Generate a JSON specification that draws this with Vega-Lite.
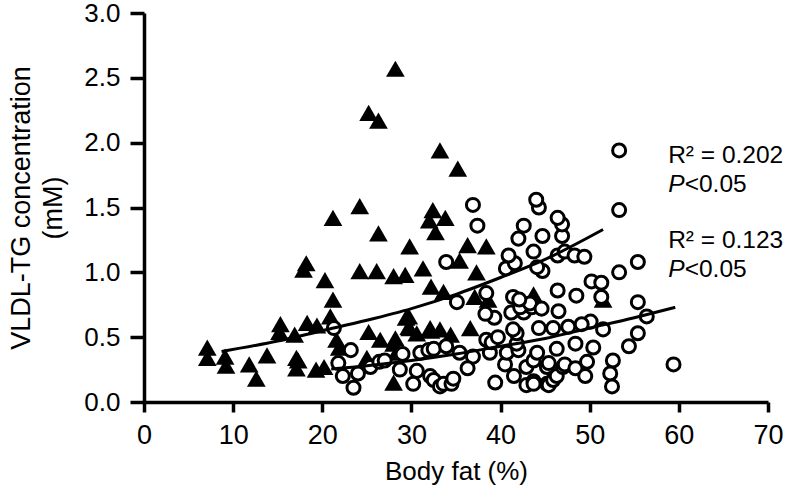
{
  "$schema": "https://vega.github.io/schema/vega-lite/v6.json",
  "width": 624,
  "height": 389,
  "autosize": {"type": "none"},
  "padding": {"left": 144, "top": 13, "right": 20, "bottom": 90},
  "background": "white",
  "config": {
    "view": {"stroke": null},
    "font": "Liberation Sans",
    "axis": {
      "grid": false,
      "labelFlush": false,
      "domainColor": "black",
      "domainWidth": 3.5,
      "tickColor": "black",
      "tickWidth": 3.5,
      "labelFont": "Liberation Sans",
      "labelColor": "black",
      "titleFont": "Liberation Sans",
      "titleFontWeight": "normal",
      "titleColor": "black"
    }
  },
  "datasets": {
    "tri": [
      {"x": 28.2, "y": 2.57}, {"x": 25.2, "y": 2.23}, {"x": 26.3, "y": 2.17}, {"x": 33.2, "y": 1.94}, {"x": 35.2, "y": 1.8},
      {"x": 21.2, "y": 1.42}, {"x": 24.2, "y": 1.51}, {"x": 26.3, "y": 1.3}, {"x": 32.4, "y": 1.48}, {"x": 33.8, "y": 1.42},
      {"x": 32.0, "y": 1.4}, {"x": 32.7, "y": 1.31}, {"x": 29.8, "y": 1.2}, {"x": 36.3, "y": 1.21}, {"x": 38.4, "y": 1.2},
      {"x": 18.2, "y": 1.07}, {"x": 17.9, "y": 1.02}, {"x": 20.3, "y": 0.94}, {"x": 24.2, "y": 1.01}, {"x": 26.1, "y": 1.01},
      {"x": 28.0, "y": 0.97}, {"x": 29.3, "y": 0.98}, {"x": 31.3, "y": 1.03}, {"x": 35.4, "y": 1.09}, {"x": 37.3, "y": 1.0},
      {"x": 32.2, "y": 0.89}, {"x": 33.6, "y": 0.85}, {"x": 37.1, "y": 0.81}, {"x": 38.6, "y": 0.79}, {"x": 43.7, "y": 0.83},
      {"x": 51.5, "y": 0.79}, {"x": 21.2, "y": 0.79}, {"x": 20.9, "y": 0.66}, {"x": 15.3, "y": 0.6}, {"x": 15.2, "y": 0.54},
      {"x": 18.3, "y": 0.61}, {"x": 19.4, "y": 0.59}, {"x": 16.9, "y": 0.52}, {"x": 17.3, "y": 0.32}, {"x": 17.1, "y": 0.26},
      {"x": 7.1, "y": 0.42}, {"x": 7.1, "y": 0.34}, {"x": 9.1, "y": 0.35}, {"x": 9.2, "y": 0.28}, {"x": 11.8, "y": 0.29},
      {"x": 12.6, "y": 0.18}, {"x": 13.8, "y": 0.36}, {"x": 25.2, "y": 0.54}, {"x": 29.4, "y": 0.65}, {"x": 29.8, "y": 0.57},
      {"x": 28.0, "y": 0.15}, {"x": 19.3, "y": 0.25}, {"x": 20.2, "y": 0.27}, {"x": 21.6, "y": 0.48}, {"x": 21.9, "y": 0.42},
      {"x": 25.0, "y": 0.34}, {"x": 28.0, "y": 0.45}, {"x": 28.3, "y": 0.38}, {"x": 32.2, "y": 0.55}, {"x": 33.2, "y": 0.56},
      {"x": 34.4, "y": 0.52}, {"x": 30.6, "y": 0.53}, {"x": 29.7, "y": 0.66}, {"x": 29.7, "y": 0.58}, {"x": 32.1, "y": 0.57},
      {"x": 36.6, "y": 0.57}, {"x": 28.2, "y": 0.49}, {"x": 26.5, "y": 0.48}, {"x": 17.1, "y": 0.34}
    ],
    "circ": [
      {"x": 21.3, "y": 0.57}, {"x": 23.2, "y": 0.4}, {"x": 21.8, "y": 0.3}, {"x": 22.3, "y": 0.2}, {"x": 23.5, "y": 0.11},
      {"x": 24.0, "y": 0.22}, {"x": 25.4, "y": 0.27}, {"x": 26.4, "y": 0.31}, {"x": 27.0, "y": 0.32}, {"x": 28.7, "y": 0.25},
      {"x": 29.0, "y": 0.37}, {"x": 30.6, "y": 0.24}, {"x": 31.0, "y": 0.38}, {"x": 31.9, "y": 0.4}, {"x": 32.5, "y": 0.41},
      {"x": 32.1, "y": 0.2}, {"x": 32.5, "y": 0.17}, {"x": 33.2, "y": 0.12}, {"x": 33.6, "y": 0.14}, {"x": 34.5, "y": 0.14},
      {"x": 34.7, "y": 0.18}, {"x": 30.2, "y": 0.14}, {"x": 33.9, "y": 0.43}, {"x": 35.4, "y": 0.38}, {"x": 36.9, "y": 0.35},
      {"x": 36.3, "y": 0.26}, {"x": 38.8, "y": 0.38}, {"x": 38.4, "y": 0.48}, {"x": 39.0, "y": 0.46}, {"x": 39.7, "y": 0.5},
      {"x": 39.4, "y": 0.15}, {"x": 40.5, "y": 0.29}, {"x": 40.7, "y": 0.38}, {"x": 41.5, "y": 0.2}, {"x": 42.0, "y": 0.4},
      {"x": 41.8, "y": 0.45}, {"x": 41.8, "y": 0.53}, {"x": 42.9, "y": 0.27}, {"x": 42.9, "y": 0.13}, {"x": 43.7, "y": 0.32},
      {"x": 43.7, "y": 0.16}, {"x": 43.7, "y": 0.14}, {"x": 44.1, "y": 0.38}, {"x": 45.2, "y": 0.27}, {"x": 45.4, "y": 0.3},
      {"x": 45.2, "y": 0.14}, {"x": 45.4, "y": 0.13}, {"x": 45.9, "y": 0.17}, {"x": 46.3, "y": 0.2}, {"x": 46.3, "y": 0.41},
      {"x": 47.0, "y": 0.27}, {"x": 47.2, "y": 0.29}, {"x": 48.4, "y": 0.26}, {"x": 48.4, "y": 0.45}, {"x": 49.5, "y": 0.2},
      {"x": 49.7, "y": 0.31}, {"x": 50.4, "y": 0.42}, {"x": 52.6, "y": 0.32}, {"x": 52.3, "y": 0.22}, {"x": 52.5, "y": 0.12},
      {"x": 54.4, "y": 0.43}, {"x": 55.4, "y": 0.53}, {"x": 56.4, "y": 0.66}, {"x": 55.4, "y": 0.77}, {"x": 59.4, "y": 0.29},
      {"x": 50.1, "y": 0.62}, {"x": 49.1, "y": 0.6}, {"x": 51.5, "y": 0.56}, {"x": 44.3, "y": 0.57}, {"x": 45.9, "y": 0.57},
      {"x": 47.6, "y": 0.58}, {"x": 41.4, "y": 0.56}, {"x": 39.3, "y": 0.65}, {"x": 41.2, "y": 0.69}, {"x": 42.6, "y": 0.69},
      {"x": 43.5, "y": 0.73}, {"x": 42.2, "y": 0.73}, {"x": 43.3, "y": 0.76}, {"x": 44.6, "y": 0.72}, {"x": 46.5, "y": 0.7},
      {"x": 35.1, "y": 0.77}, {"x": 38.3, "y": 0.68}, {"x": 38.4, "y": 0.84}, {"x": 41.4, "y": 0.81}, {"x": 42.1, "y": 0.79},
      {"x": 46.4, "y": 0.86}, {"x": 48.5, "y": 0.82}, {"x": 51.3, "y": 0.81}, {"x": 50.2, "y": 0.93}, {"x": 51.3, "y": 0.92},
      {"x": 53.3, "y": 1.0}, {"x": 55.4, "y": 1.08}, {"x": 40.6, "y": 1.03}, {"x": 44.7, "y": 1.01}, {"x": 44.1, "y": 1.04},
      {"x": 41.6, "y": 1.07}, {"x": 40.9, "y": 1.13}, {"x": 43.7, "y": 1.16}, {"x": 46.4, "y": 1.13}, {"x": 47.2, "y": 1.16},
      {"x": 48.3, "y": 1.13}, {"x": 49.4, "y": 1.12}, {"x": 42.0, "y": 1.26}, {"x": 44.7, "y": 1.28}, {"x": 46.9, "y": 1.28},
      {"x": 42.6, "y": 1.36}, {"x": 46.9, "y": 1.37}, {"x": 46.4, "y": 1.42}, {"x": 44.3, "y": 1.5}, {"x": 44.0, "y": 1.56},
      {"x": 36.9, "y": 1.52}, {"x": 37.4, "y": 1.36}, {"x": 33.9, "y": 1.08}, {"x": 53.3, "y": 1.94}, {"x": 53.3, "y": 1.48}
    ],
    "lines": [
      {"s": "a", "x": 8.7, "y": 0.39}, {"s": "a", "x": 15, "y": 0.47}, {"s": "a", "x": 20, "y": 0.55},
      {"s": "a", "x": 25, "y": 0.63}, {"s": "a", "x": 30, "y": 0.72}, {"s": "a", "x": 35, "y": 0.83},
      {"s": "a", "x": 40, "y": 0.96}, {"s": "a", "x": 45, "y": 1.1}, {"s": "a", "x": 51.5, "y": 1.33},
      {"s": "b", "x": 21, "y": 0.255}, {"s": "b", "x": 25, "y": 0.28}, {"s": "b", "x": 30, "y": 0.32},
      {"s": "b", "x": 35, "y": 0.37}, {"s": "b", "x": 40, "y": 0.43}, {"s": "b", "x": 45, "y": 0.49},
      {"s": "b", "x": 50, "y": 0.57}, {"s": "b", "x": 55, "y": 0.65}, {"s": "b", "x": 59.6, "y": 0.73}
    ],
    "ann": [
      {"x": 58.8, "y": 1.84, "t": "R² = 0.202"},
      {"x": 60.65, "y": 1.62, "t": "<0.05"},
      {"x": 58.8, "y": 1.185, "t": "R² = 0.123"},
      {"x": 60.65, "y": 0.966, "t": "<0.05"}
    ],
    "annp": [
      {"x": 58.8, "y": 1.62, "t": "P"},
      {"x": 58.8, "y": 0.966, "t": "P"}
    ]
  },
  "layer": [
    {
      "data": {"name": "tri"},
      "mark": {"type": "point", "shape": "triangle-up", "filled": true, "color": "black", "size": 350, "opacity": 1},
      "encoding": {
        "x": {
          "field": "x", "type": "quantitative",
          "scale": {"domain": [0, 70], "nice": false},
          "axis": {"values": [0, 10, 20, 30, 40, 50, 60, 70], "title": "Body fat (%)", "tickSize": 10, "labelFontSize": 27, "labelPadding": 10, "titleFontSize": 26, "titlePadding": 10}
        },
        "y": {
          "field": "y", "type": "quantitative",
          "scale": {"domain": [0, 3], "nice": false},
          "axis": {"values": [0, 0.5, 1, 1.5, 2, 2.5, 3], "format": ".1f", "title": ["VLDL-TG concentration", "(mM)"], "tickSize": 14, "labelFontSize": 26, "labelPadding": 10, "titleFontSize": 27, "titleLineHeight": 32, "titlePadding": 16}
        }
      }
    },
    {
      "data": {"name": "circ"},
      "mark": {"type": "point", "shape": "circle", "filled": false, "fill": "white", "fillOpacity": 1, "stroke": "black", "strokeWidth": 3, "size": 170, "opacity": 1},
      "encoding": {
        "x": {"field": "x", "type": "quantitative"},
        "y": {"field": "y", "type": "quantitative"}
      }
    },
    {
      "data": {"name": "lines"},
      "mark": {"type": "line", "color": "black", "strokeWidth": 3, "interpolate": "monotone"},
      "encoding": {
        "x": {"field": "x", "type": "quantitative"},
        "y": {"field": "y", "type": "quantitative"},
        "detail": {"field": "s"}
      }
    },
    {
      "data": {"name": "ann"},
      "mark": {"type": "text", "align": "left", "baseline": "alphabetic", "fontSize": 24.5, "font": "Liberation Sans", "color": "black"},
      "encoding": {
        "x": {"field": "x", "type": "quantitative"},
        "y": {"field": "y", "type": "quantitative"},
        "text": {"field": "t"}
      }
    },
    {
      "data": {"name": "annp"},
      "mark": {"type": "text", "align": "left", "baseline": "alphabetic", "fontSize": 24.5, "fontStyle": "italic", "font": "Liberation Sans", "color": "black"},
      "encoding": {
        "x": {"field": "x", "type": "quantitative"},
        "y": {"field": "y", "type": "quantitative"},
        "text": {"field": "t"}
      }
    }
  ]
}
